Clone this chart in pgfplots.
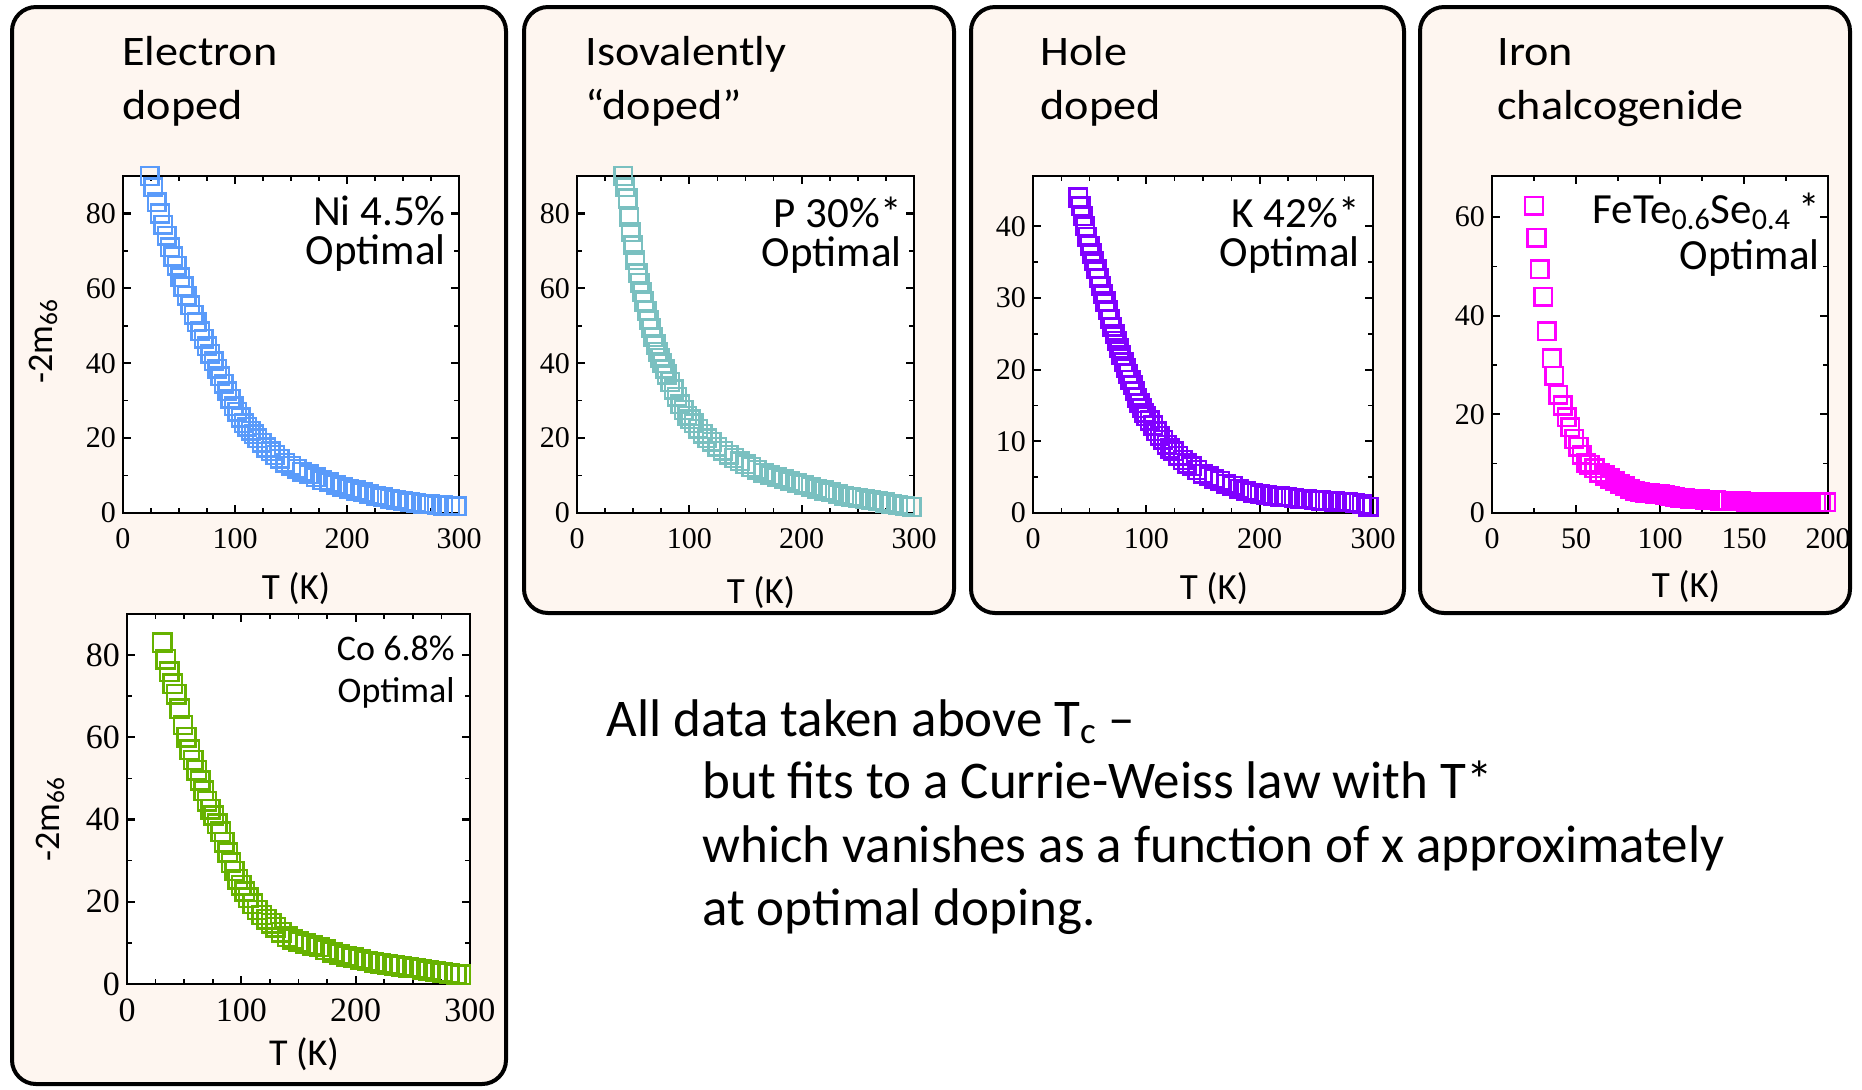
\documentclass[border=0pt]{standalone}
\usepackage{fontspec}
\setmainfont{Carlito}
\newfontfamily\titlefont[FakeStretch=1.1]{Carlito}
\newfontfamily\tickfont{Liberation Serif}
\usepackage{pgfplots}
\pgfplotsset{compat=1.18}

\definecolor{niblue}{RGB}{90,155,250}
\definecolor{pteal}{RGB}{122,192,192}
\definecolor{kviolet}{RGB}{128,0,255}
\definecolor{femag}{RGB}{255,0,255}
\definecolor{cogreen}{RGB}{102,178,0}
\definecolor{panelbg}{RGB}{254,246,240}

\pgfplotsset{
  panel/.style={
    scale only axis, anchor=south west,
    axis line style={line width=1.1pt},
    axis background/.style={fill=white},
    tick align=inside,
    major tick length=4pt, minor tick length=2.5pt,
    major tick style={line width=1.1pt, black},
    minor tick style={line width=0.8pt, black},
    /pgf/number format/assume math mode=true,
    ticklabel style={font=\tickfont\fontsize{15}{15}\selectfont},
    xticklabel style={yshift=-4pt},
    xmin=0, xmax=300, xtick={0,100,200,300}, minor x tick num=3,
    ymin=0, minor y tick num=1,
  },
  sq/.style={only marks, color=#1, mark=square, mark size=4.4pt,
    mark options={draw=#1, fill=white, line width=1.25pt}},
}

\begin{document}
\begin{tikzpicture}
\useasboundingbox (0pt,0pt) rectangle (931pt,-544.5pt);
% panel frames (pixel units, y down)
\begin{scope}[x=0.5pt, y=-0.5pt]
  \draw[line width=2pt, rounded corners=12pt, fill=panelbg] (12,7) rectangle (506,1084);
  \draw[line width=2pt, rounded corners=12pt, fill=panelbg] (524,7) rectangle (954,613);
  \draw[line width=2pt, rounded corners=12pt, fill=panelbg] (971,7) rectangle (1404,613);
  \draw[line width=2pt, rounded corners=12pt, fill=panelbg] (1420,7) rectangle (1850,613);
\end{scope}

% Ni 4.5%
\begin{axis}[panel, at={(61.5pt,-256.5pt)}, width=168pt, height=168.5pt,
  ymax=90, ytick={0,20,40,60,80}]
\addplot[sq=niblue] coordinates {
(24,90) (27,87) (30,83) (33,80) (36,77) (39,74) (42,71) (45,68.5) (48,66)
(51,63) (54,60.5) (57,58) (60,55.5) (63,53) (66,51) (69,48.5) (72,46.5)
(75,44.5) (78,42.5) (81,40.5) (84,38.5) (87,36.5) (90,34.5) (93,32.5)
(96,30.5) (99,28.5) (102,27) (105,25.5) (108,24) (111,23) (114,22) (117,21)
(120,20) (124,18.8) (128,17.5) (132,16.5) (136,15.5) (140,14.5) (145,13.4)
(150,12.6) (155,11.8) (160,11) (166,10.3) (172,9.5) (178,8.8) (184,8.2)
(190,7.6) (196,7.0) (202,6.5) (208,6.0) (214,5.5) (220,5.0) (226,4.6)
(232,4.2) (238,3.8) (244,3.5) (250,3.2) (256,2.9) (262,2.7) (268,2.5)
(274,2.3) (280,2.1) (286,2.0) (292,1.9) (298,1.8)
};
\end{axis}

% P 30%
\begin{axis}[panel, at={(288.5pt,-256.5pt)}, width=168.5pt, height=168.5pt,
  ymax=90, ytick={0,20,40,60,80}]
\addplot[sq=pteal] coordinates {
(41,90) (43,87) (45,84) (46.5,79) (48,75) (50,71.5) (52,67.5) (54,64)
(56,61.5) (58,59) (60,56.5) (62,54) (64,51.5) (66,49.5) (68,47) (70,45)
(72,43) (74,41.5) (76,40) (78,38.5) (80,37) (83,35) (86,33) (89,31) (92,29)
(95,27.5) (98,26) (101,25) (104,24) (108,22.5) (112,21.2) (116,20) (120,19)
(125,17.7) (130,16.6) (135,15.6) (140,14.7) (145,13.8) (150,13) (155,12.3)
(160,11.6) (166,10.8) (172,10.1) (178,9.5) (184,9.0) (190,8.5) (196,8.0)
(202,7.5) (208,7.0) (214,6.5) (220,6.0) (226,5.5) (232,5.0) (238,4.6)
(244,4.3) (250,4.0) (256,3.7) (262,3.4) (268,3.1) (274,2.8) (280,2.5)
(286,2.2) (292,1.9) (298,1.6)
};
\end{axis}

% K 42%
\begin{axis}[panel, at={(516.5pt,-256.5pt)}, width=170pt, height=168.5pt,
  ymax=47, ytick={0,10,20,30,40}]
\addplot[sq=kviolet] coordinates {
(40,44) (42,42.8) (44,41.4) (46,40) (48,38.5) (50,37.3) (52,36.2) (54,35.1)
(56,34) (58,32.8) (60,31.7) (62,30.6) (64,29.5) (66,28.3) (68,27.1) (70,26)
(72,25) (74,24) (76,23) (78,22) (80,21) (82,20.2) (84,19.4) (86,18.6)
(88,17.8) (90,17) (92,16.1) (94,15.3) (96,14.6) (98,14) (100,13.5)
(103,12.9) (106,12.2) (109,11.4) (112,10.8) (115,10.2) (118,9.5) (121,9.0)
(124,8.6) (128,8.0) (132,7.4) (136,6.9) (140,6.5) (145,6.0) (150,5.5)
(155,5.1) (160,4.8) (165,4.5) (170,4.1) (176,3.8) (182,3.4) (188,3.1)
(194,2.8) (200,2.6) (206,2.5) (212,2.4) (218,2.3) (224,2.2) (230,2.1)
(236,2.0) (242,1.9) (248,1.8) (254,1.75) (260,1.7) (266,1.6) (272,1.55)
(278,1.5) (284,1.4) (290,1.2) (296,0.9)
};
\end{axis}

% FeTe0.6Se0.4
\begin{axis}[panel, at={(746pt,-256.5pt)}, width=168pt, height=168.5pt,
  xmax=200, xtick={0,50,100,150,200}, minor x tick num=1,
  ymax=68.3, ytick={0,20,40,60}]
\addplot[sq=femag] coordinates {
(25,62.3) (26.5,55.8) (28.5,49.4) (30.5,43.8) (32.5,36.8) (35.5,31.4)
(37,27.8) (39.5,24) (42,21.8) (44.5,19.4) (46.5,17.4) (49,15) (51.5,13.4)
(53.5,11.8) (56,10.2) (58,9.8) (61,9.1) (64,8.2) (67,7.6) (70,7.0) (73,6.4)
(76,5.9) (79,5.4) (82,4.9) (85,4.5) (88,4.3) (91,4.1) (94,4.0) (97,3.9)
(100,3.8) (103,3.6) (106,3.4) (109,3.3) (112,3.1) (115,3.0) (118,2.9)
(121,2.8) (124,2.75) (127,2.7) (130,2.6) (133,2.55) (136,2.5) (139,2.5)
(142,2.45) (145,2.4) (148,2.35) (151,2.3) (154,2.3) (157,2.3) (160,2.25)
(163,2.25) (166,2.2) (169,2.2) (172,2.2) (175,2.2) (178,2.2) (181,2.2)
(184,2.2) (187,2.2) (190,2.2) (193,2.2) (196,2.2) (199,2.2)
};
\end{axis}

% Co 6.8%
\begin{axis}[panel, at={(63.5pt,-492pt)}, width=171.5pt, height=185pt,
  ymax=90, ytick={0,20,40,60,80},
  ticklabel style={font=\tickfont\fontsize{17}{17}\selectfont}]
\addplot[sq=cogreen, mark size=4.6pt] coordinates {
(31,83) (34,79) (37,76) (40,73) (43,70.5) (46,67) (49,63) (52,60) (55,57)
(58,54.5) (61,52) (64,49.5) (67,47) (70,44.5) (73,42.5) (76,41) (79,39)
(82,37) (85,34.5) (88,32) (91,29.5) (94,27.5) (97,25.5) (100,24) (103,22.5)
(106,21) (110,19.5) (114,18) (118,16.8) (122,15.8) (126,14.8) (130,13.8)
(135,12.6) (140,11.5) (145,10.9) (150,10.3) (156,9.8) (162,9.4) (168,9.0)
(174,8.3) (180,7.7) (186,7.2) (192,6.8) (198,6.4) (204,6.0) (210,5.6)
(216,5.3) (222,5.1) (228,4.8) (234,4.5) (240,4.3) (246,4.1) (252,3.9)
(258,3.6) (264,3.3) (270,3.0) (276,2.8) (282,2.6) (288,2.4) (292,2.3)
};
\end{axis}

% text (anchor base = baseline of the last line)
\begin{scope}[x=0.5pt, y=-0.5pt]
  \tikzset{ttl/.style={anchor=base west, inner sep=0pt, align=left,
             font=\titlefont\fontsize{21}{27}\selectfont},
           ann/.style={anchor=base east, inner sep=0pt, align=right,
             font=\fontsize{21.5}{19.5}\selectfont},
           xl/.style={anchor=base, inner sep=0pt, font=\fontsize{18.5}{20}\selectfont},
           body/.style={anchor=base west, inner sep=0pt, font=\fontsize{26.5}{30}\selectfont}}
  \node[ttl] at (122,119) {Electron\\doped};
  \node[ttl] at (585,119) {Isovalently\\“doped”};
  \node[ttl] at (1040,119) {Hole\\doped};
  \node[ttl] at (1497,119) {Iron\\chalcogenide};

  \node[ann] at (446,264) {Ni 4.5\%\\Optimal};
  \node[ann] at (902,266) {P 30\%*\\Optimal};
  \node[ann] at (1360,266) {K 42\%*\\Optimal};
  \node[ann, font=\fontsize{21.5}{23}\selectfont] at (1820,269) {FeTe\textsubscript{0.6}Se\textsubscript{0.4}\,*\\Optimal};
  \node[ann, font=\fontsize{18}{21}\selectfont] at (455,702) {Co 6.8\%\\Optimal};

  \node[xl] at (296,599) {T (K)};
  \node[xl] at (761,603) {T (K)};
  \node[xl] at (1214,599) {T (K)};
  \node[xl] at (1686,597) {T (K)};
  \node[xl, font=\fontsize{19}{21}\selectfont] at (304,1065) {T (K)};

  \node[rotate=90, anchor=base, inner sep=0pt, font=\fontsize{18}{20}\selectfont] at (52,341) {-2m\textsubscript{66}};
  \node[rotate=90, anchor=base, inner sep=0pt, font=\fontsize{18}{20}\selectfont] at (59,819) {-2m\textsubscript{66}};

  \node[body] at (606,736) {All data taken above T\textsubscript{c} –};
  \node[body] at (702,798) {but fits to a Currie-Weiss law with T*};
  \node[body] at (702,862) {which vanishes as a function of x approximately};
  \node[body] at (702,925) {at optimal doping.};
\end{scope}
\end{tikzpicture}
\end{document}
